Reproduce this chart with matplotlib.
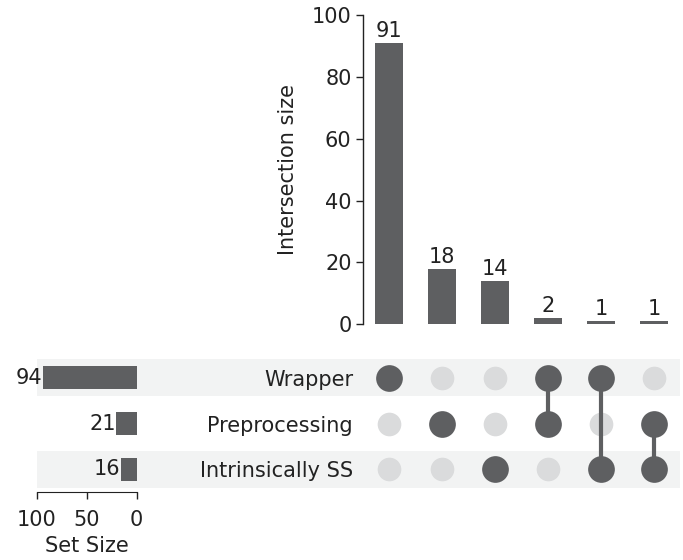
import matplotlib
matplotlib.use("Agg")
import matplotlib.pyplot as plt
from matplotlib.patches import Rectangle
from matplotlib.transforms import blended_transform_factory

# ---- data ----
set_names = ["Wrapper", "Preprocessing", "Intrinsically SS"]
set_sizes = [94, 21, 16]
intersection_sizes = [91, 18, 14, 2, 1, 1]
memberships = [
    ["Wrapper"],
    ["Preprocessing"],
    ["Intrinsically SS"],
    ["Wrapper", "Preprocessing"],
    ["Wrapper", "Intrinsically SS"],
    ["Preprocessing", "Intrinsically SS"],
]
yticks_inter = [0, 20, 40, 60, 80, 100]
xticks_sets = [100, 50, 0]

DARK = "#5e5f61"
LIGHT = "#dadbdc"
SHADE = "#f2f3f3"
TXT = "#222222"
FS = 15

W, H = 683, 560
fig = plt.figure(figsize=(W / 100, H / 100), dpi=100)
plt.rcParams["font.family"] = ["DejaVu Sans"]


def px(x0, y_top, x1, y_bot):
    return [x0 / W, 1 - y_bot / H, (x1 - x0) / W, (y_bot - y_top) / H]


ax_i = fig.add_axes(px(362.7, 15, 680.7, 324.3))
ax_m = fig.add_axes(px(362.7, 354.8, 680.7, 492.2))
ax_t = fig.add_axes(px(36.7, 354.8, 136.7, 492.2))
for a in (ax_i, ax_m, ax_t):
    a.set_facecolor("none")

ncol = len(intersection_sizes)
cols = list(range(ncol))
rows = {n: i for i, n in enumerate(set_names)}

# intersection bars
ax_i.bar(cols, intersection_sizes, width=0.53, color=DARK, zorder=2)
for c, v in zip(cols, intersection_sizes):
    ax_i.annotate(str(v), (c, v), xytext=(0, 1.5), textcoords="offset points",
                  ha="center", va="bottom", fontsize=FS, color=TXT)
ax_i.set_xlim(-0.5, ncol - 0.5)
ax_i.set_ylim(0, 100)
ax_i.set_yticks(yticks_inter)
ax_i.set_xticks([])
for s in ("top", "right", "bottom"):
    ax_i.spines[s].set_visible(False)
ax_i.spines["left"].set_color(TXT)
ax_i.spines["left"].set_linewidth(1.0)
ax_i.tick_params(axis="y", length=5, width=1, labelsize=FS, colors=TXT, pad=3)
ax_i.set_ylabel("Intersection size", fontsize=FS, color=TXT, labelpad=10)

# matrix
ax_m.set_xlim(-0.5, ncol - 0.5)
ax_m.set_ylim(len(set_names) - 0.5, -0.5)
for c, mem in zip(cols, memberships):
    for n in set_names:
        if n not in mem:
            ax_m.scatter([c], [rows[n]], s=290, color=LIGHT, zorder=2, linewidths=0)
    rr = [rows[n] for n in mem]
    if len(rr) > 1:
        ax_m.plot([c, c], [min(rr), max(rr)], color=DARK, lw=3, zorder=3,
                  solid_capstyle="butt")
    ax_m.scatter([c] * len(rr), rr, s=370, color=DARK, zorder=4, linewidths=0)
ax_m.set_xticks([])
ax_m.set_yticks(range(len(set_names)))
ax_m.set_yticklabels(set_names)
ax_m.tick_params(axis="y", length=0, labelsize=FS, labelcolor=TXT, pad=7)
for s in ax_m.spines.values():
    s.set_visible(False)

# shading bands
tr = blended_transform_factory(fig.transFigure, ax_m.transData)
for i in range(0, len(set_names), 2):
    fig.add_artist(Rectangle((37 / W, i - 0.4), (680 - 37) / W, 0.8,
                             transform=tr, facecolor=SHADE, lw=0, zorder=-1))

# totals
ax_t.barh([rows[n] for n in set_names], set_sizes, height=0.5, color=DARK)
for n, v in zip(set_names, set_sizes):
    ax_t.text(v, rows[n], str(v), ha="right", va="center", fontsize=FS, color=TXT)
ax_t.set_xlim(100, 0)
ax_t.set_ylim(len(set_names) - 0.5, -0.5)
ax_t.set_xticks(xticks_sets)
ax_t.set_yticks([])
for s in ("top", "right", "left"):
    ax_t.spines[s].set_visible(False)
ax_t.spines["bottom"].set_color(TXT)
ax_t.tick_params(axis="x", length=5, width=1, labelsize=FS, colors=TXT, pad=8)
ax_t.set_xlabel("Set Size", fontsize=FS, color=TXT, labelpad=4)

fig.savefig("out.png", dpi=100)
